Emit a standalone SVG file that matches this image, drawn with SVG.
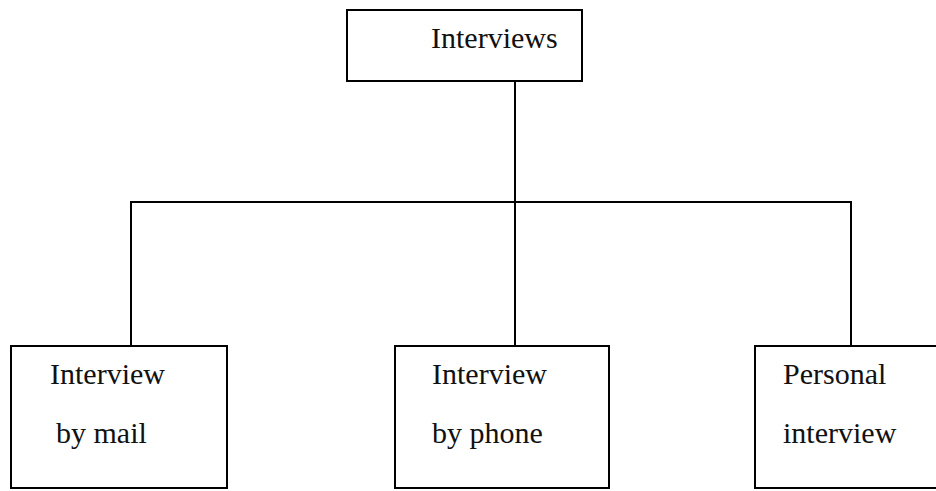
<svg xmlns="http://www.w3.org/2000/svg" width="936" height="491" viewBox="0 0 936 491">
<style>
.box{fill:#fff;stroke:#000;stroke-width:2}
.conn{fill:none;stroke:#000;stroke-width:2}
.t{font-family:'Liberation Serif','DejaVu Serif',serif;font-size:30px;fill:#111}
</style>
<rect width="936" height="491" fill="#fff"/>
<g id="connectors">
<path class="conn" d="M515 81V346"/>
<path class="conn" d="M131 346V202H851V346"/>
</g>
<g id="interviews">
<rect class="box" x="347" y="10" width="235" height="71"/>
<text class="t" font-family="Liberation Serif, serif" x="431" y="48">Interviews</text>
</g>
<g id="mail">
<rect class="box" x="11" y="346" width="216" height="142"/>
<text class="t" font-family="Liberation Serif, serif" x="50" y="384">Interview</text>
<text class="t" font-family="Liberation Serif, serif" x="56" y="443">by mail</text>
</g>
<g id="phone">
<rect class="box" x="395" y="346" width="214" height="142"/>
<text class="t" font-family="Liberation Serif, serif" x="432" y="384">Interview</text>
<text class="t" font-family="Liberation Serif, serif" x="432" y="443">by phone</text>
</g>
<g id="personal">
<rect class="box" x="755" y="346" width="200" height="142"/>
<text class="t" font-family="Liberation Serif, serif" x="783" y="384">Personal</text>
<text class="t" font-family="Liberation Serif, serif" x="783" y="443">interview</text>
</g>
</svg>
